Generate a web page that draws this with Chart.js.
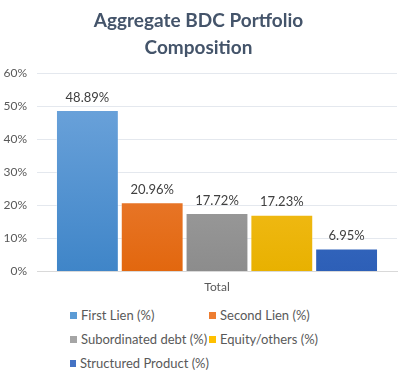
<!DOCTYPE html>
<html>
<head>
<meta charset="utf-8">
<script src="https://cdn.jsdelivr.net/npm/chart.js@4/dist/chart.umd.min.js"></script>
<style>
  body { margin: 0; background: #fff; }
  #wrap { position: relative; width: 403px; height: 384px; }
  #chartBox { position: absolute; left: 0; top: 0; width: 403px; height: 294px; }
  #legend {
    position: absolute; left: 70px; top: 306px;
    display: grid; grid-template-columns: 139px 150px; row-gap: 6px;
    font-family: Lato, sans-serif; font-size: 13px; color: #595959;
  }
  .item { display: flex; align-items: center; height: 18px; white-space: nowrap; }
  .sw { width: 7px; height: 7px; margin-right: 4px; }
</style>
</head>
<body>
<div id="wrap">
  <div id="chartBox"><canvas id="myChart"></canvas></div>
  <div id="legend"></div>
</div>
<script>
// données
const categories = ["Total"];
const seriesNames = ["First Lien (%)", "Second Lien (%)", "Subordinated debt (%)", "Equity/others (%)", "Structured Product (%)"];
const seriesValues = [48.89, 20.96, 17.72, 17.23, 6.95];
const colorsTop = ["#72a7dd", "#f18d52", "#b0b0b0", "#ffc93c", "#4b7fd2"];
const colorsBottom = ["#3f85c8", "#e2670e", "#8c8c8c", "#e8b100", "#2d5fb7"];
const legendColors = ["#5b9bd5", "#ed7d31", "#a5a5a5", "#ffc000", "#4472c4"];
const yTicks = [0, 10, 20, 30, 40, 50, 60];

// dégradé vertical pour chaque barre
const makeGradient = (i) => (context) => {
  const chart = context.chart;
  const area = chart.chartArea;
  if (!area) return colorsTop[i];
  const g = chart.ctx.createLinearGradient(0, area.top, 0, area.bottom);
  g.addColorStop(0, colorsTop[i]);
  g.addColorStop(1, colorsBottom[i]);
  return g;
};

// étiquettes de valeur au-dessus des barres
const valueLabels = {
  id: "valueLabels",
  afterDatasetsDraw(chart) {
    const ctx = chart.ctx;
    ctx.save();
    ctx.font = "13px Lato, sans-serif";
    ctx.fillStyle = "#404040";
    ctx.textAlign = "center";
    ctx.textBaseline = "bottom";
    chart.data.datasets.forEach((ds, i) => {
      chart.getDatasetMeta(i).data.forEach((bar, j) => {
        ctx.fillText(ds.data[j].toFixed(2) + "%", bar.x, bar.y - 6);
      });
    });
    ctx.restore();
  },
};

const chartData = {
  labels: categories,
  datasets: seriesNames.map((name, i) => ({
    label: name,
    data: [seriesValues[i]],
    backgroundColor: makeGradient(i),
    borderColor: "rgba(255,255,255,0.35)",
    borderWidth: 1,
  })),
};

const ctx = document.getElementById("myChart").getContext("2d");
const myChart = new Chart(ctx, {
  type: "bar",
  data: chartData,
  plugins: [valueLabels],
  options: {
    responsive: true,
    maintainAspectRatio: false,
    animation: false,
    layout: { padding: { left: 0, right: 6, bottom: 0 } },
    datasets: { bar: { categoryPercentage: 0.9, barPercentage: 0.97 } },
    plugins: {
      legend: { display: false },
      tooltip: { enabled: false },
      title: {
        display: true,
        text: ["Aggregate BDC Portfolio", "Composition"],
        color: "#44546a",
        font: { family: "Lato, sans-serif", size: 19, weight: "bold", lineHeight: 1.4 },
        padding: { top: 8, bottom: 12 },
      },
    },
    scales: {
      x: {
        grid: { display: false },
        border: { color: "#d9d9d9" },
        ticks: { color: "#595959", font: { family: "Lato, sans-serif", size: 12 }, padding: 0 },
      },
      y: {
        min: 0,
        max: 60,
        afterBuildTicks: (axis) => { axis.ticks = yTicks.map((v) => ({ value: v })); },
        afterFit: (axis) => { axis.width = 37; },
        grid: { color: "#e4e8ee", drawTicks: false },
        border: { display: false },
        ticks: {
          color: "#595959",
          font: { family: "Lato, sans-serif", size: 12 },
          padding: 10,
          callback: (v) => v + "%",
        },
      },
    },
  },
});

// légende personnalisée en deux colonnes
const legendEl = document.getElementById("legend");
seriesNames.forEach((name, i) => {
  const item = document.createElement("div");
  item.className = "item";
  item.innerHTML = '<span class="sw" style="background:' + legendColors[i] + '"></span>' + name;
  legendEl.appendChild(item);
});
</script>
</body>
</html>
